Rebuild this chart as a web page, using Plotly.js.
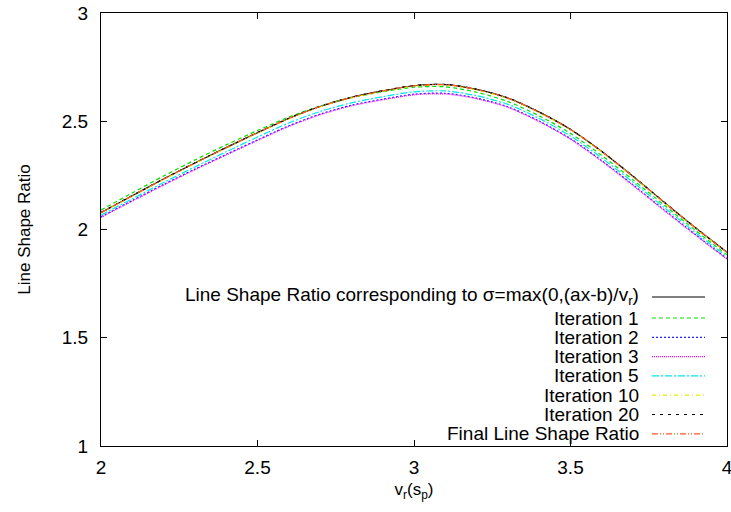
<!DOCTYPE html>
<html>
<head>
<meta charset="utf-8">
<script src="https://cdn.plot.ly/plotly-3.0.1.min.js"></script>
<style>html,body{margin:0;padding:0;background:#fff;}#chart{width:731px;height:512px;}</style>
</head>
<body>
<div id="chart"></div>
<script>
const xValues = [2.0,2.1,2.2,2.3,2.4,2.5,2.6,2.7,2.8,2.9,3.0,3.1,3.2,3.3,3.4,3.5,3.6,3.7,3.8,3.9,4.0];
const referenceRatio = [2.078,2.156,2.233,2.307,2.378,2.447,2.513,2.568,2.610,2.640,2.664,2.669,2.647,2.607,2.542,2.462,2.360,2.245,2.125,2.007,1.895];
const iteration1 = [2.090,2.169,2.247,2.321,2.391,2.457,2.519,2.570,2.609,2.636,2.657,2.659,2.634,2.591,2.525,2.444,2.342,2.229,2.112,1.995,1.883];
const iteration2 = [2.059,2.134,2.208,2.279,2.347,2.414,2.479,2.533,2.574,2.602,2.625,2.629,2.607,2.567,2.501,2.420,2.318,2.206,2.090,1.976,1.866];
const iteration3 = [2.056,2.131,2.205,2.276,2.344,2.411,2.476,2.530,2.571,2.599,2.622,2.626,2.604,2.564,2.498,2.417,2.315,2.203,2.087,1.973,1.863];
const iteration5 = [2.066,2.142,2.217,2.289,2.359,2.427,2.492,2.545,2.585,2.613,2.636,2.640,2.618,2.578,2.513,2.432,2.330,2.218,2.101,1.985,1.874];
const iteration10 = [2.076,2.154,2.231,2.305,2.376,2.445,2.511,2.566,2.608,2.638,2.662,2.667,2.645,2.605,2.540,2.460,2.358,2.243,2.123,2.005,1.893];
const iteration20 = [2.079,2.157,2.234,2.308,2.379,2.448,2.514,2.569,2.611,2.641,2.665,2.670,2.648,2.608,2.543,2.463,2.361,2.246,2.126,2.008,1.896];
const finalRatio = [2.078,2.156,2.233,2.307,2.378,2.447,2.513,2.568,2.610,2.640,2.664,2.669,2.647,2.607,2.542,2.462,2.360,2.245,2.125,2.007,1.895];

const seriesNames = [
  "Line Shape Ratio corresponding to σ=max(0,(ax-b)/v<sub>r</sub>)",
  "Iteration 1","Iteration 2","Iteration 3","Iteration 5","Iteration 10","Iteration 20","Final Line Shape Ratio"
];
const seriesData = [referenceRatio, iteration1, iteration2, iteration3, iteration5, iteration10, iteration20, finalRatio];
const seriesColors = ["#000000","#00e000","#2020ff","#ff00ff","#00e8e8","#e8e800","#000000","#ff5a28"];
const seriesDash = ["solid","4px,3px","2px,2px","1px,1px","7px,2px,2px,2px","4px,3px,1px,3px","3px,5px","6px,2px,1px,2px,1px,2px"];
const xTitle = "v<sub>r</sub>(s<sub>p</sub>)";
const yTitle = "Line Shape Ratio";

const font = "Liberation Sans, Arial, sans-serif";
const traces = seriesData.map((ys, i) => ({
  x: xValues, y: ys, type: "scatter", mode: "lines", name: seriesNames[i],
  line: {color: seriesColors[i], width: 1.2, dash: seriesDash[i], shape: "spline", smoothing: 0.8},
  showlegend: false, hoverinfo: "skip"
}));

// gnuplot-style legend: right-aligned text with sample to its right
const plotTop = 13, plotBottom = 446, plotLeft = 101, plotRight = 727;
const ph = plotBottom - plotTop, pw = plotRight - plotLeft;
const rowYs = [295.5, 318, 337.3, 356.6, 375.9, 395.2, 414.5, 433.8];
const annotations = [], shapes = [];
seriesNames.forEach((name, i) => {
  const py = rowYs[i];
  const yp = (plotBottom - py) / ph;
  const sy = (plotBottom - (i === 0 ? 297 : py)) / ph;
  annotations.push({xref: "paper", yref: "paper", x: (641 - plotLeft) / pw, y: yp, text: name,
    showarrow: false, xanchor: "right", yanchor: "middle", font: {family: font, size: 19, color: "#000"}});
  shapes.push({type: "line", xref: "paper", yref: "paper", x0: (652 - plotLeft) / pw, x1: (705 - plotLeft) / pw,
    y0: sy, y1: sy, line: {color: seriesColors[i], width: 1.2, dash: seriesDash[i]}});
});

const axisCommon = {
  showline: true, linecolor: "#000", linewidth: 1, mirror: "ticks", ticks: "inside", ticklen: 6,
  tickcolor: "#000", tickwidth: 1, showgrid: false, zeroline: false,
  tickfont: {family: font, size: 19, color: "#000"}
};
const layout = {
  width: 731, height: 512, paper_bgcolor: "#fff", plot_bgcolor: "#fff",
  margin: {l: plotLeft, r: 731 - plotRight, t: plotTop, b: 512 - plotBottom},
  font: {family: font, size: 17, color: "#000"},
  xaxis: Object.assign({}, axisCommon, {range: [2, 4], dtick: 0.5, tick0: 2, ticklabelstandoff: 4,
    ticklabeloverflow: "allow",
    title: {text: xTitle, font: {family: font, size: 17, color: "#000"}, standoff: 6}}),
  yaxis: Object.assign({}, axisCommon, {range: [1, 3], dtick: 0.5, tick0: 1, ticklabelstandoff: 8,
    title: {text: yTitle, font: {family: font, size: 17, color: "#000"}, standoff: 26}}),
  annotations: annotations, shapes: shapes, showlegend: false
};
Plotly.newPlot("chart", traces, layout, {staticPlot: true, displayModeBar: false});
</script>
</body>
</html>
